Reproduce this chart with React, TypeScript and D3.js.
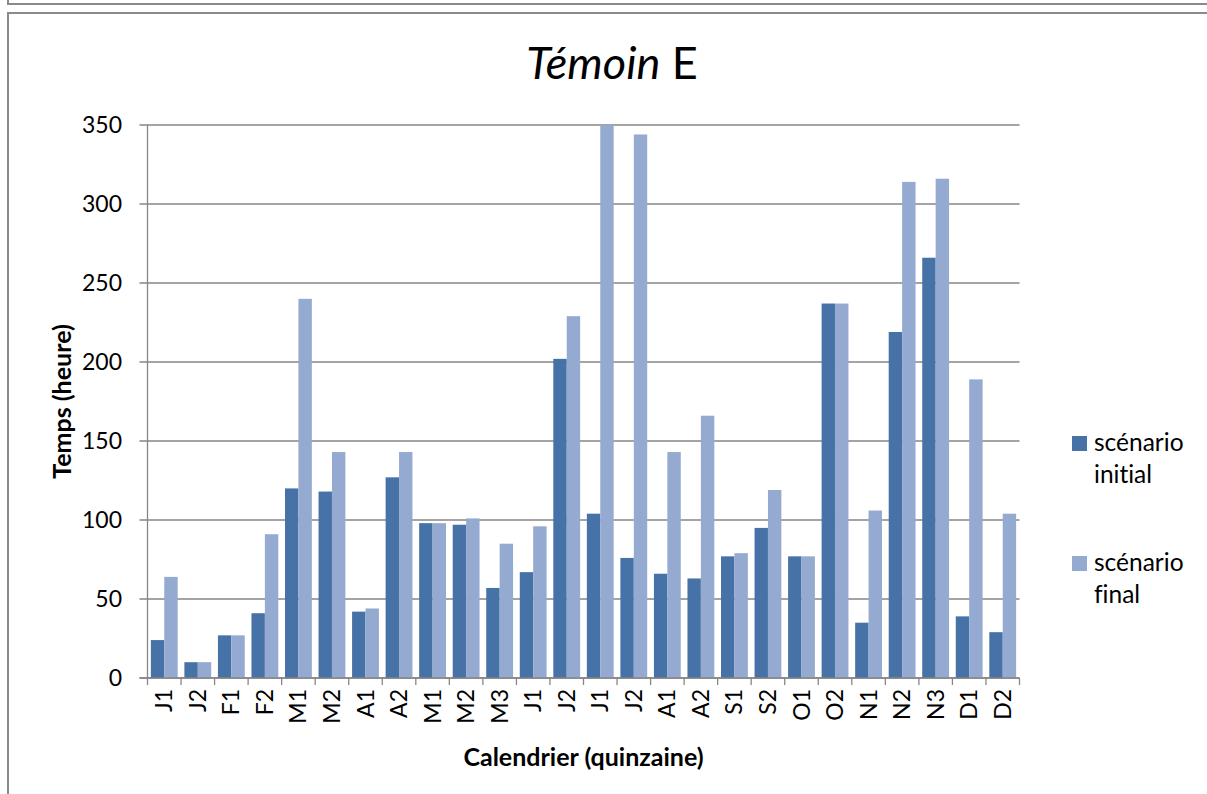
import React from "react";
import * as d3 from "d3";

const categories = ["J1","J2","F1","F2","M1","M2","A1","A2","M1","M2","M3","J1","J2","J1","J2","A1","A2","S1","S2","O1","O2","N1","N2","N3","D1","D2"];
const initialValues = [24, 10, 27, 41, 120, 118, 42, 127, 98, 97, 57, 67, 202, 104, 76, 66, 63, 77, 95, 77, 237, 35, 219, 266, 39, 29];
const finalValues = [64, 10, 27, 91, 240, 143, 44, 143, 98, 101, 85, 96, 229, 350, 344, 143, 166, 79, 119, 77, 237, 106, 314, 316, 189, 104];
const seriesNames = ["scénario initial", "scénario final"];
const seriesColors = ["#4672A7", "#95AAD0"];
const yTicks = [0, 50, 100, 150, 200, 250, 300, 350];

const W = 1207, H = 794;
const plot = { left: 147.5, right: 1019.5, top: 125, bottom: 678 };
const FONT = "Lato, Carlito, Calibri, 'Open Sans', sans-serif";
const GRID = "#868686";

export default function App() {
  const idx = categories.map((_, i) => String(i));
  const x0 = d3.scaleBand<string>().domain(idx).range([plot.left, plot.right]).paddingInner(0).paddingOuter(0);
  const bw = x0.bandwidth();
  const x1 = d3.scaleBand<string>().domain(["0", "1"]).range([bw * 0.1, bw * 0.9]).padding(0);
  const y = d3.scaleLinear().domain([0, 350]).range([plot.bottom, plot.top]);
  const series = [initialValues, finalValues];

  return (
    <svg width={W} height={H} style={{ position: "absolute", left: 0, top: 0, background: "#fff", fontVariantLigatures: "none" }} fontFamily={FONT}>
      {/* frames */}
      <line x1={8} y1={0} x2={8} y2={4.5} stroke="#8a8a8a" strokeWidth={2} />
      <line x1={7} y1={4} x2={W} y2={4} stroke="#8a8a8a" strokeWidth={2} />
      <line x1={7} y1={13} x2={W} y2={13} stroke="#8a8a8a" strokeWidth={2} />
      <line x1={8} y1={12} x2={8} y2={H} stroke="#8a8a8a" strokeWidth={2} />

      {/* title */}
      <text x={612} y={79} textAnchor="middle" fontSize={45} fill="#000">
        <tspan fontStyle="italic">Témoin</tspan> E
      </text>

      {/* gridlines and y ticks */}
      {yTicks.map((t) => (
        <g key={t}>
          <line x1={plot.left - 8} x2={plot.right} y1={y(t)} y2={y(t)} stroke={GRID} strokeWidth={1.3} />
          <text x={122} y={y(t)} dy="0.35em" textAnchor="end" fontSize={23} fill="#000">{t}</text>
        </g>
      ))}

      {/* bars */}
      {series.map((vals, s) => (
        <g key={s} fill={seriesColors[s]}>
          {vals.map((v, i) => (
            <rect key={i} x={(x0(String(i)) as number) + (x1(String(s)) as number)} y={y(v)} width={x1.bandwidth()} height={y(0) - y(v)} />
          ))}
        </g>
      ))}

      {/* axes */}
      <line x1={plot.left} x2={plot.left} y1={plot.top} y2={plot.bottom} stroke={GRID} strokeWidth={1.3} />
      <line x1={plot.left - 8} x2={plot.right} y1={plot.bottom} y2={plot.bottom} stroke={GRID} strokeWidth={1.3} />
      {d3.range(categories.length + 1).map((i) => {
        const xx = plot.left + i * bw;
        return <line key={i} x1={xx} x2={xx} y1={plot.bottom} y2={plot.bottom + 7} stroke={GRID} strokeWidth={1.3} />;
      })}
      {categories.map((c, i) => {
        const cx = (x0(String(i)) as number) + bw / 2;
        return (
          <text key={i} transform={`translate(${cx},${plot.bottom + 11}) rotate(-90)`} dy="0.35em" textAnchor="end" fontSize={23} fill="#000">{c}</text>
        );
      })}

      {/* axis titles */}
      <text x={(plot.left + plot.right) / 2} y={766} textAnchor="middle" fontSize={25} fontWeight="bold" fill="#000">Calendrier (quinzaine)</text>
      <text transform={`translate(71,${(plot.top + plot.bottom) / 2}) rotate(-90)`} textAnchor="middle" fontSize={25} fontWeight="bold" fill="#000">Temps (heure)</text>

      {/* legend */}
      {seriesNames.map((n, s) => {
        const [a, b] = n.split(" ");
        const top = s === 0 ? 436 : 556;
        return (
          <g key={s}>
            <rect x={1072} y={top} width={15} height={15} fill={seriesColors[s]} />
            <text x={1094} y={top + 15} fontSize={24.5} fill="#000">{a}</text>
            <text x={1094} y={top + 47} fontSize={24.5} fill="#000">{b}</text>
          </g>
        );
      })}
    </svg>
  );
}
